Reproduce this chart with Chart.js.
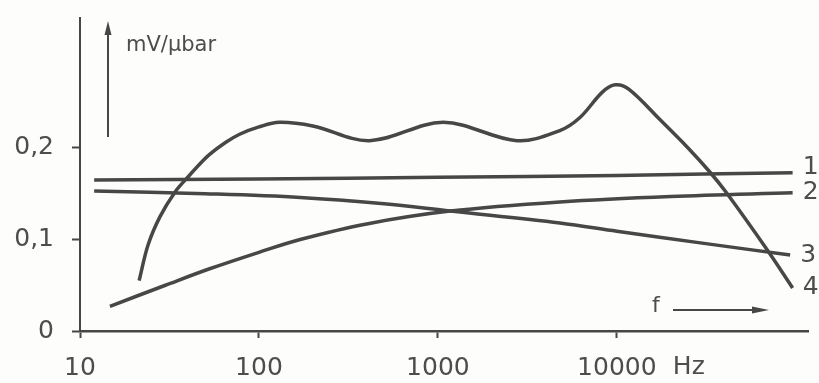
<!DOCTYPE html>
<html>
<head>
<meta charset="utf-8">
<script src="https://cdn.jsdelivr.net/npm/chart.js@4.4.1/dist/chart.umd.min.js"></script>
<style>
    html, body { margin: 0; padding: 0; background: #fdfdfb; }
    #wrap { width: 819px; height: 383px; position: relative; }
</style>
</head>
<body>
<div id="wrap"><canvas id="mic-chart"></canvas></div>
<script>
// ==================== DONNÉES ====================
// fréquences en Hz, sensibilité en mV/µbar
const curve1Freq = [12, 100, 1000, 10000, 96000];
const curve1Val  = [0.165, 0.166, 0.168, 0.170, 0.173];

const curve2Freq = [14.7, 30, 53, 100, 170, 400, 1170, 4800, 20000, 96000];
const curve2Val  = [0.027, 0.050, 0.068, 0.086, 0.100, 0.117, 0.131, 0.141, 0.147, 0.151];

const curve3Freq = [12, 50, 170, 500, 1170, 4800, 10000, 30000, 93000];
const curve3Val  = [0.153, 0.150, 0.146, 0.139, 0.131, 0.118, 0.109, 0.096, 0.083];

const curve4Freq = [21.4, 24, 28, 34, 40, 47, 53, 65, 78, 100, 130, 200, 415, 1070, 2770, 4800, 6200, 8300, 9800, 11700, 17400, 25000, 33000, 41000, 69000, 96000];
const curve4Val  = [0.055, 0.094, 0.125, 0.152, 0.168, 0.183, 0.193, 0.206, 0.215, 0.223, 0.228, 0.224, 0.208, 0.228, 0.208, 0.219, 0.233, 0.261, 0.269, 0.264, 0.231, 0.200, 0.174, 0.151, 0.089, 0.047];

const curveNames = ["1", "2", "3", "4"];

const xTicks = [10, 100, 1000, 10000];
const xTickLabels = ["10", "100", "1000", "10000"];
const yTicks = [0, 0.1, 0.2];
const yTickLabels = ["0", "0,1", "0,2"];

const unitLabel = "mV/µbar";
const freqLabel = "f";
const hzLabel = "Hz";

// ==================== STYLE ====================
const INK = "#474747";
const TEXT = "#4d4d4d";
const FONT = "DejaVu Sans";

function toPoints(freqs, vals) {
    return freqs.map((f, i) => ({ x: f, y: vals[i] }));
}

function makeDataset(label, freqs, vals) {
    return {
        label,
        data: toPoints(freqs, vals),
        borderColor: INK,
        borderWidth: 3.5,
        pointRadius: 0,
        tension: 0.35,
        fill: false
    };
}

// ==================== ANNOTATIONS (unité, flèches, numéros de courbes) ====================
const annotations = {
    id: "annotations",
    afterDraw(chart) {
        const ctx = chart.ctx;
        const xs = chart.scales.x;
        const ys = chart.scales.y;
        ctx.save();
        ctx.strokeStyle = INK;

        // flèche verticale + unité
        ctx.lineWidth = 2;
        ctx.beginPath();
        ctx.moveTo(108, 137);
        ctx.lineTo(108, 30);
        ctx.stroke();
        ctx.beginPath();
        ctx.moveTo(108, 21);
        ctx.lineTo(104.5, 35);
        ctx.lineTo(111.5, 35);
        ctx.closePath();
        ctx.fillStyle = INK;
        ctx.fill();

        ctx.fillStyle = TEXT;
        ctx.font = `21px '${FONT}'`;
        ctx.textBaseline = "middle";
        ctx.textAlign = "left";
        ctx.fillText(unitLabel, 126, 46);

        // f ---->
        ctx.font = `22px '${FONT}'`;
        ctx.fillText(freqLabel, 652, 306);
        ctx.lineWidth = 2;
        ctx.beginPath();
        ctx.moveTo(673, 310);
        ctx.lineTo(755, 310);
        ctx.stroke();
        ctx.beginPath();
        ctx.moveTo(769, 310);
        ctx.lineTo(752, 306.5);
        ctx.lineTo(752, 313.5);
        ctx.closePath();
        ctx.fillStyle = INK;
        ctx.fill();

        // Hz après le dernier repère
        ctx.fillStyle = TEXT;
        ctx.font = `25px '${FONT}'`;
        ctx.textAlign = "left";
        ctx.fillText(hzLabel, xs.getPixelForValue(10000) + 56, 367);

        // numéros des courbes
        chart.data.datasets.forEach((ds, i) => {
            const last = ds.data[ds.data.length - 1];
            const px = xs.getPixelForValue(last.x);
            const py = ys.getPixelForValue(last.y);
            ctx.fillText(curveNames[i], px + 10, py - (i === 0 ? 5 : 0));
        });
        ctx.restore();
    }
};

// ==================== CHART ====================
const ctx = document.getElementById("mic-chart").getContext("2d");

new Chart(ctx, {
    type: "line",
    data: {
        datasets: [
            makeDataset("1", curve1Freq, curve1Val),
            makeDataset("2", curve2Freq, curve2Val),
            makeDataset("3", curve3Freq, curve3Val),
            makeDataset("4", curve4Freq, curve4Val)
        ]
    },
    options: {
        responsive: true,
        maintainAspectRatio: false,
        animation: false,
        layout: { padding: { top: 18, right: 11, left: 0, bottom: 0 } },
        plugins: {
            legend: { display: false },
            tooltip: { enabled: false }
        },
        scales: {
            x: {
                type: "logarithmic",
                min: 10,
                max: 117000,
                afterBuildTicks: (scale) => { scale.ticks = xTicks.map(v => ({ value: v })); },
                afterFit: (scale) => {
                    scale.height = 52;
                    scale.paddingLeft = 0;
                    scale.paddingRight = 0;
                },
                ticks: {
                    autoSkip: false,
                    maxRotation: 0,
                    color: TEXT,
                    padding: 15,
                    font: { family: FONT, size: 25 },
                    callback: (value, idx) => xTickLabels[idx]
                },
                grid: {
                    drawOnChartArea: false,
                    drawTicks: true,
                    tickLength: 7,
                    tickColor: INK,
                    tickWidth: 2
                },
                border: { color: INK, width: 2.5 }
            },
            y: {
                min: 0,
                max: 0.342,
                afterBuildTicks: (scale) => { scale.ticks = yTicks.map(v => ({ value: v })); },
                afterFit: (scale) => {
                    scale.width = 80;
                    scale.paddingTop = 0;
                    scale.paddingBottom = 0;
                },
                ticks: {
                    color: TEXT,
                    padding: 18,
                    font: { family: FONT, size: 25 },
                    callback: (value, idx) => yTickLabels[idx]
                },
                grid: {
                    drawOnChartArea: false,
                    drawTicks: true,
                    tickLength: 8,
                    tickColor: INK,
                    tickWidth: 2
                },
                border: { color: INK, width: 2 }
            }
        }
    },
    plugins: [annotations]
});
</script>
</body>
</html>
